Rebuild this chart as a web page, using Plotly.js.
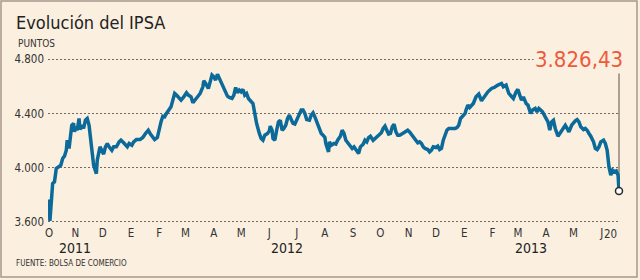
<!DOCTYPE html>
<html><head><meta charset="utf-8">
<script src="https://cdn.plot.ly/plotly-3.0.1.min.js"></script>
<style>html,body{margin:0;padding:0;background:#f9f1e7;}#chart{width:640px;height:280px;}</style>
</head><body><div id="chart"></div>
<script>
const dates = [
"2011-10-03","2011-10-04","2011-10-07","2011-10-09","2011-10-11","2011-10-13","2011-10-16","2011-10-18","2011-10-20","2011-10-22",
"2011-10-23","2011-10-25","2011-10-26","2011-10-28","2011-10-30","2011-10-31","2011-11-01","2011-11-03","2011-11-05","2011-11-06",
"2011-11-08","2011-11-10","2011-11-12","2011-11-14","2011-11-16","2011-11-17","2011-11-19","2011-11-21","2011-11-24","2011-11-25",
"2011-11-28","2011-11-30","2011-12-02","2011-12-04","2011-12-06","2011-12-08","2011-12-11","2011-12-13","2011-12-16","2011-12-19",
"2011-12-21","2011-12-24","2011-12-26","2011-12-28","2011-12-30","2012-01-02","2012-01-04","2012-01-07","2012-01-11","2012-01-14",
"2012-01-17","2012-01-20","2012-01-22","2012-01-25","2012-01-27","2012-01-30","2012-02-01","2012-02-03","2012-02-05","2012-02-07",
"2012-02-09","2012-02-12","2012-02-14","2012-02-16","2012-02-18","2012-02-20","2012-02-23","2012-02-25","2012-02-28","2012-03-02",
"2012-03-04","2012-03-07","2012-03-09","2012-03-11","2012-03-14","2012-03-17","2012-03-20","2012-03-21","2012-03-23","2012-03-26",
"2012-03-28","2012-03-30","2012-04-01","2012-04-03","2012-04-05","2012-04-07","2012-04-10","2012-04-12","2012-04-14","2012-04-16",
"2012-04-18","2012-04-21","2012-04-23","2012-04-25","2012-04-27","2012-04-29","2012-05-01","2012-05-03","2012-05-05","2012-05-07",
"2012-05-09","2012-05-11","2012-05-14","2012-05-16","2012-05-18","2012-05-21","2012-05-23","2012-05-25","2012-05-27","2012-05-30",
"2012-06-01","2012-06-02","2012-06-04","2012-06-05","2012-06-07","2012-06-09","2012-06-11","2012-06-13","2012-06-15","2012-06-17",
"2012-06-19","2012-06-21","2012-06-23","2012-06-25","2012-06-27","2012-06-29","2012-07-02","2012-07-04","2012-07-06","2012-07-08",
"2012-07-10","2012-07-12","2012-07-15","2012-07-17","2012-07-19","2012-07-21","2012-07-23","2012-07-26","2012-07-28","2012-07-30",
"2012-08-01","2012-08-02","2012-08-05","2012-08-06","2012-08-08","2012-08-11","2012-08-13","2012-08-15","2012-08-18","2012-08-20",
"2012-08-22","2012-08-24","2012-08-27","2012-08-29","2012-08-31","2012-09-02","2012-09-04","2012-09-06","2012-09-07","2012-09-09",
"2012-09-12","2012-09-14","2012-09-16","2012-09-18","2012-09-20","2012-09-23","2012-09-25","2012-09-27","2012-09-29","2012-10-02",
"2012-10-04","2012-10-06","2012-10-08","2012-10-10","2012-10-12","2012-10-14","2012-10-16","2012-10-18","2012-10-20","2012-10-22",
"2012-10-24","2012-10-26","2012-10-29","2012-10-31","2012-11-02","2012-11-04","2012-11-06","2012-11-09","2012-11-11","2012-11-13",
"2012-11-15","2012-11-17","2012-11-19","2012-11-22","2012-11-24","2012-11-26","2012-11-28","2012-12-01","2012-12-03","2012-12-05",
"2012-12-07","2012-12-09","2012-12-11","2012-12-13","2012-12-15","2012-12-18","2012-12-20","2012-12-22","2012-12-24","2012-12-26",
"2012-12-28","2012-12-31","2013-01-02","2013-01-03","2013-01-05","2013-01-07","2013-01-11","2013-01-14","2013-01-17","2013-01-20",
"2013-01-23","2013-01-27","2013-01-31","2013-02-03","2013-02-07","2013-02-11","2013-02-13","2013-02-16","2013-02-19","2013-02-22",
"2013-02-24","2013-02-27","2013-03-01","2013-03-03","2013-03-05","2013-03-07","2013-03-10","2013-03-12","2013-03-15","2013-03-17",
"2013-03-20","2013-03-22","2013-03-24","2013-03-26","2013-03-28","2013-03-31","2013-04-03","2013-04-05","2013-04-07","2013-04-09",
"2013-04-11","2013-04-14","2013-04-16","2013-04-18","2013-04-20","2013-04-22","2013-04-24","2013-04-26","2013-04-29","2013-05-01",
"2013-05-03","2013-05-05","2013-05-07","2013-05-09","2013-05-12","2013-05-14","2013-05-16","2013-05-18","2013-05-20","2013-05-23",
"2013-05-25","2013-05-27","2013-05-29","2013-05-31","2013-06-03","2013-06-05","2013-06-07","2013-06-09","2013-06-11","2013-06-13",
"2013-06-15","2013-06-17","2013-06-19","2013-06-20"
];
const ipsa = [
3763,3605,3881,3894,3993,4005,4017,4067,4084,4128,
4202,4141,4190,4313,4326,4264,4301,4276,4363,4281,
4313,4289,4350,4363,4313,4252,4128,4017,3955,4054,
4153,4128,4099,4153,4178,4153,4128,4153,4153,4190,
4202,4183,4165,4153,4178,4165,4190,4207,4207,4222,
4252,4276,4252,4222,4207,4222,4289,4338,4380,4375,
4400,4425,4449,4499,4548,4536,4511,4499,4523,4553,
4536,4523,4479,4499,4523,4548,4597,4642,4622,4585,
4634,4684,4671,4647,4691,4659,4622,4585,4548,4528,
4518,4511,4536,4592,4553,4573,4560,4578,4536,4548,
4511,4499,4474,4400,4326,4252,4215,4202,4239,4252,
4271,4306,4276,4215,4202,4276,4338,4350,4276,4289,
4313,4363,4388,4355,4326,4321,4363,4400,4425,4425,
4400,4355,4350,4388,4405,4375,4338,4301,4252,4239,
4222,4178,4116,4190,4165,4178,4173,4202,4232,4276,
4252,4202,4173,4153,4141,4153,4128,4116,4104,4153,
4173,4202,4190,4222,4232,4202,4215,4232,4239,4257,
4289,4306,4276,4247,4252,4301,4321,4264,4239,4239,
4247,4257,4264,4276,4264,4247,4222,4202,4183,4190,
4178,4153,4141,4133,4116,4128,4153,4148,4158,4133,
4141,4202,4239,4276,4289,4289,4291,4289,4296,4313,
4363,4388,4400,4425,4462,4444,4474,4523,4543,4494,
4523,4560,4585,4592,4610,4622,4597,4610,4548,4523,
4511,4560,4578,4536,4499,4523,4474,4462,4400,4425,
4437,4412,4437,4425,4412,4375,4338,4276,4338,4350,
4289,4232,4252,4276,4296,4313,4289,4264,4313,4331,
4346,4355,4338,4301,4281,4289,4276,4252,4232,4190,
4141,4133,4153,4190,4202,4178,4128,4005,3943,3980,
3968,3975,3943,3826.43
];
const monthTicks = ["2011-10-03","2011-11-01","2011-12-01","2012-01-01","2012-02-01","2012-03-01","2012-04-01","2012-05-01","2012-06-01","2012-07-01","2012-08-01","2012-09-01","2012-10-01","2012-11-01","2012-12-01","2013-01-01","2013-02-01","2013-03-01","2013-04-01","2013-05-01","2013-06-01"];
const monthLabels = ["O","N","D","E","F","M","A","M","J","J","A","S","O","N","D","E","F","M","A","M","J"];
const yTicks = [3600,4000,4400,4800];
const years = [["2011","2011-11-01"],["2012","2012-06-20"],["2013","2013-03-15"]];
const lastDate = dates[dates.length-1];
const lastVal = ipsa[ipsa.length-1];

const FONT = "DejaVu Sans Condensed, DejaVu Sans, sans-serif";
const BG = "#fbefdf";
const L=48,R=20,T=54,B=53,W=640,H=280;
const pw=W-L-R, ph=H-T-B;
const px = v => (v-L)/pw;           // pixel x -> paper
const py = v => (H-B-v)/ph;         // pixel y -> paper

const traces = [
 {x:dates,y:ipsa,type:"scatter",mode:"lines",line:{color:"#0b6a99",width:3.5},hoverinfo:"skip"},
 {x:[lastDate],y:[lastVal],type:"scatter",mode:"markers",cliponaxis:false,
  marker:{size:7,color:"#ffffff",line:{color:"#2a2a2a",width:1.5}},hoverinfo:"skip"}
];

const annotations = [
 {xref:"paper",yref:"paper",x:px(14),y:py(263),xanchor:"left",yanchor:"middle",showarrow:false,
  text:"FUENTE: BOLSA DE COMERCIO",font:{family:FONT,size:8,color:"#333"}},
 {xref:"paper",yref:"paper",x:px(16),y:py(43),xanchor:"left",yanchor:"middle",showarrow:false,
  text:"PUNTOS",font:{family:FONT,size:10,color:"#333"}},
 {xref:"x",yref:"paper",x:lastDate,y:py(234),xanchor:"right",yanchor:"middle",showarrow:false,
  text:"20",font:{family:FONT,size:11.5,color:"#333"}},
 {xref:"paper",yref:"paper",x:px(625),y:py(59),xanchor:"right",yanchor:"middle",showarrow:false,
  text:"3.826,43",bgcolor:BG,borderpad:1,font:{family:FONT,size:22,color:"#ee5a3c"}}
].concat(years.map(([t,d])=>({xref:"x",yref:"paper",x:d,y:py(248),xanchor:"center",yanchor:"middle",
  showarrow:false,text:t,font:{family:FONT,size:14,color:"#222"}})));

const layout = {
 width:W,height:H,margin:{l:L,r:R,t:T,b:B},
 paper_bgcolor:BG,plot_bgcolor:BG,showlegend:false,separators:",.",
 title:{text:"Evolución del IPSA",x:16/W,xanchor:"left",xref:"container",y:1-23/H,yanchor:"middle",yref:"container",
  font:{family:FONT,size:18,color:"#222"}},
 xaxis:{type:"date",range:["2011-10-01 21:30","2013-06-21 02:30"],tickvals:monthTicks,ticktext:monthLabels,
  showgrid:false,zeroline:false,showline:false,ticks:"",ticklabelstandoff:-3,tickfont:{family:FONT,size:11.5,color:"#333"}},
 yaxis:{range:[3560,4840],tickvals:yTicks,tickformat:",d",showgrid:true,gridcolor:"#6f6a64",gridwidth:1,
  griddash:"2px,2px",zeroline:false,showline:false,ticks:"",ticklabelstandoff:3,tickfont:{family:FONT,size:11.5,color:"#333"}},
 annotations:annotations,
 shapes:[
  {type:"line",xref:"x",yref:"y",x0:lastDate,x1:lastDate,y0:lastVal,y1:4705,layer:"below",
   line:{color:"#ab9f93",width:2}},
  {type:"rect",xref:"paper",yref:"paper",x0:px(1),x1:px(637),y0:py(277),y1:py(1),
   line:{color:"#a6988b",width:1.5},fillcolor:"rgba(0,0,0,0)"}
 ]
};
Plotly.newPlot("chart",traces,layout,{staticPlot:true,displayModeBar:false});
</script></body></html>
